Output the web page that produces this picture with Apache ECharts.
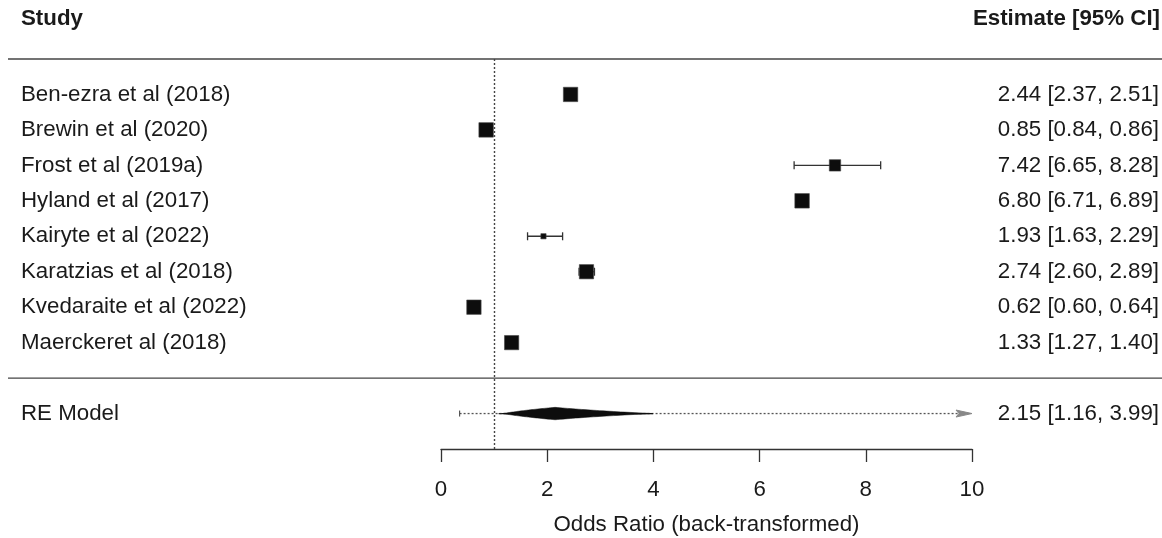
<!DOCTYPE html>
<html>
<head>
<meta charset="utf-8">
<script src="https://cdn.jsdelivr.net/npm/echarts@6/dist/echarts.min.js"></script>
<style>
  html, body { margin: 0; padding: 0; background: #fff; }
  #forest { width: 1162px; height: 538px; }
</style>
</head>
<body>
<div id="forest"></div>
<script>
// study data
const studies = [
  "Ben-ezra et al (2018)",
  "Brewin et al (2020)",
  "Frost et al (2019a)",
  "Hyland et al (2017)",
  "Kairyte et al (2022)",
  "Karatzias et al (2018)",
  "Kvedaraite et al (2022)",
  "Maerckeret al (2018)"
]
const estimates = [2.44, 0.85, 7.42, 6.80, 1.93, 2.74, 0.62, 1.33]
const ciLower = [2.37, 0.84, 6.65, 6.71, 1.63, 2.60, 0.60, 1.27]
const ciUpper = [2.51, 0.86, 8.28, 6.89, 2.29, 2.89, 0.64, 1.40]
// relative weights (square size)
const weights = [12.9, 13.0, 10.2, 13.0, 4.7, 12.8, 12.9, 12.8]

const pooledLabel = "RE Model"
const pooledEstimate = [2.15, 1.16, 3.99] // est, lb, ub
const predictionInterval = [0.35, 13.2]

const xTicks = [0, 2, 4, 6, 8, 10]
const nullValue = 1

// row layout (index on the y axis, top -> bottom)
const pooledRow = studies.length + 1
const separatorRows = [-1, studies.length]

const FONT = "'Liberation Sans', Arial, sans-serif"
const FS = 22.3
const TXT = "#1a1a1a"
const INK = "#333"

const fmt = (v) => v.toFixed(2)
const ciText = (e, l, u) => fmt(e) + " [" + fmt(l) + ", " + fmt(u) + "]"

const leftLabel = (v) => {
  if (v >= 0 && v < studies.length) return studies[v]
  if (v === pooledRow) return pooledLabel
  return ""
}
const rightLabel = (v) => {
  if (v >= 0 && v < studies.length) return ciText(estimates[v], ciLower[v], ciUpper[v])
  if (v === pooledRow) return ciText(pooledEstimate[0], pooledEstimate[1], pooledEstimate[2])
  return ""
}

const maxWeight = Math.max(...weights)
const studyData = studies.map((s, i) => [estimates[i], i, ciLower[i], ciUpper[i], weights[i]])

const chart = echarts.init(document.getElementById("forest"))

const option = {
  animation: false,
  title: [
    {
      text: "Study",
      left: 21,
      top: 8,
      padding: 0,
      textStyle: { fontFamily: FONT, fontSize: FS, fontWeight: "bold", color: TXT }
    },
    {
      text: "Estimate [95% CI]",
      right: 2,
      top: 8,
      padding: 0,
      textStyle: { fontFamily: FONT, fontSize: FS, fontWeight: "bold", color: TXT }
    }
  ],
  grid: { left: 441, right: 190, top: 59, bottom: 89, outerBoundsMode: "none" },
  xAxis: {
    type: "value",
    min: xTicks[0],
    max: xTicks[xTicks.length - 1],
    interval: xTicks[1] - xTicks[0],
    name: "Odds Ratio (back-transformed)",
    nameLocation: "middle",
    nameGap: 65,
    nameTextStyle: { fontFamily: FONT, fontSize: FS, color: TXT },
    axisLine: { show: true, onZero: false, lineStyle: { color: INK, width: 1.3 } },
    axisTick: { show: true, length: 13, lineStyle: { color: INK, width: 1.3 } },
    axisLabel: { fontFamily: FONT, fontSize: FS, color: TXT, margin: 30 },
    splitLine: { show: false }
  },
  yAxis: [
    {
      type: "value",
      inverse: true,
      min: -1,
      max: pooledRow + 1,
      interval: 1,
      position: "left",
      axisLine: { show: false },
      axisTick: { show: false },
      splitLine: { show: false },
      axisLabel: {
        formatter: leftLabel,
        align: "left",
        margin: 420,
        fontFamily: FONT,
        fontSize: FS,
        color: TXT
      }
    },
    {
      type: "value",
      inverse: true,
      min: -1,
      max: pooledRow + 1,
      interval: 1,
      position: "right",
      axisLine: { show: false },
      axisTick: { show: false },
      splitLine: { show: false },
      axisLabel: {
        formatter: rightLabel,
        align: "right",
        margin: 187,
        fontFamily: FONT,
        fontSize: FS,
        color: TXT
      }
    }
  ],
  series: [
    // separator lines across the whole width
    {
      type: "custom",
      silent: true,
      data: separatorRows.map((r) => [0, r]),
      encode: { x: 0, y: 1 },
      renderItem: (params, api) => {
        const y = api.coord([0, api.value(1)])[1]
        return {
          type: "line",
          shape: { x1: 8, y1: y, x2: api.getWidth(), y2: y },
          style: { stroke: "#444", lineWidth: 1.4 }
        }
      }
    },
    // prediction interval + pooled diamond
    {
      type: "custom",
      silent: true,
      data: [[pooledEstimate[0], pooledRow, pooledEstimate[1], pooledEstimate[2], predictionInterval[0], predictionInterval[1]]],
      encode: { x: 0, y: 1 },
      renderItem: (params, api) => {
        const row = api.value(1)
        const est = api.value(0)
        const lb = api.value(2)
        const ub = api.value(3)
        const piL = api.value(4)
        const piU = api.value(5)
        const xMax = xTicks[xTicks.length - 1]
        const y = api.coord([est, row])[1]
        const pL = api.coord([piL, row])[0]
        const pU = api.coord([Math.min(piU, xMax), row])[0]
        const h = 6.2
        // diamond, edges straight on the log scale
        const pts = []
        const n = 30
        for (let i = 0; i <= n; i++) {
          const v = lb * Math.exp((i / n) * Math.log(est / lb))
          pts.push([api.coord([v, row])[0], y - h * (i / n)])
        }
        for (let i = 1; i <= n; i++) {
          const v = est * Math.exp((i / n) * Math.log(ub / est))
          pts.push([api.coord([v, row])[0], y - h * (1 - i / n)])
        }
        for (let i = n - 1; i >= 1; i--) {
          const v = est * Math.exp((i / n) * Math.log(ub / est))
          pts.push([api.coord([v, row])[0], y + h * (1 - i / n)])
        }
        for (let i = n; i >= 1; i--) {
          const v = lb * Math.exp((i / n) * Math.log(est / lb))
          pts.push([api.coord([v, row])[0], y + h * (i / n)])
        }
        const children = [
          {
            type: "line",
            shape: { x1: pL, y1: y, x2: pU - 12, y2: y },
            style: { stroke: "#555", lineWidth: 1.3, lineDash: [2, 2] }
          },
          {
            type: "line",
            shape: { x1: pL, y1: y - 3, x2: pL, y2: y + 3 },
            style: { stroke: "#555", lineWidth: 1.2 }
          },
          {
            type: "line",
            shape: { x1: api.coord([lb, row])[0] - 4, y1: y, x2: api.coord([ub, row])[0], y2: y },
            style: { stroke: "#222", lineWidth: 1.3 }
          },
          {
            type: "polygon",
            shape: { points: pts },
            style: { fill: "#0d0d0d", stroke: "#0d0d0d", lineWidth: 0.5 }
          }
        ]
        if (piU > xMax) {
          children.push({
            type: "polygon",
            shape: { points: [[pU, y], [pU - 16, y - 3.5], [pU - 13, y], [pU - 16, y + 3.5]] },
            style: { fill: "#888", stroke: "#888", lineWidth: 1 }
          })
        }
        return { type: "group", children: children }
      }
    },
    // study estimates with CIs
    {
      type: "custom",
      silent: true,
      data: studyData,
      encode: { x: 0, y: 1 },
      renderItem: (params, api) => {
        const row = api.value(1)
        const c = api.coord([api.value(0), row])
        const l = api.coord([api.value(2), row])[0]
        const u = api.coord([api.value(3), row])[0]
        const s = (api.value(4) / maxWeight) * 14.5
        const ln = { stroke: INK, lineWidth: 1.3 }
        return {
          type: "group",
          children: [
            { type: "line", shape: { x1: l, y1: c[1], x2: u, y2: c[1] }, style: ln },
            { type: "line", shape: { x1: l, y1: c[1] - 4, x2: l, y2: c[1] + 4 }, style: ln },
            { type: "line", shape: { x1: u, y1: c[1] - 4, x2: u, y2: c[1] + 4 }, style: ln },
            {
              type: "rect",
              shape: { x: c[0] - s / 2, y: c[1] - s / 2, width: s, height: s },
              style: { fill: "#0d0d0d", stroke: "#444", lineWidth: 0.6 }
            }
          ]
        }
      },
      markLine: {
        silent: true,
        symbol: "none",
        label: { show: false },
        lineStyle: { type: [2, 2], color: "#444", width: 1.4 },
        data: [{ xAxis: nullValue }]
      }
    }
  ]
}

chart.setOption(option)
</script>
</body>
</html>
